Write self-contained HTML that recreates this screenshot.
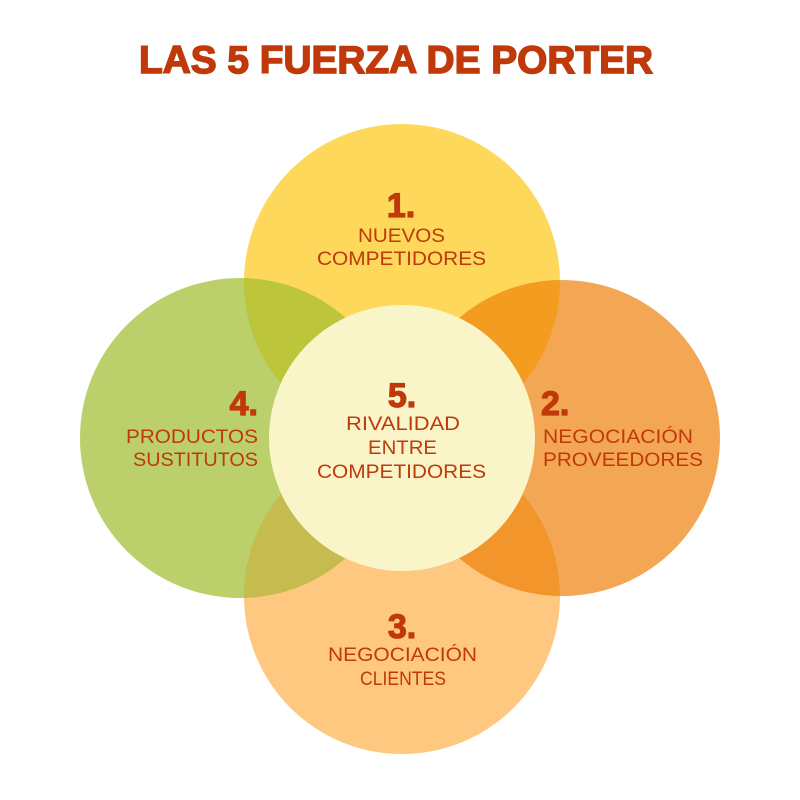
<!DOCTYPE html>
<html><head><meta charset="utf-8"><style>
html,body{margin:0;padding:0;background:#fff;width:800px;height:800px;overflow:hidden}
svg text{font-family:"Liberation Sans",sans-serif;fill:#C0390A}
.t{font-size:19px}
.n{font-size:34px;font-weight:bold;stroke:#C0390A;stroke-width:1.2}
</style></head><body>
<svg width="800" height="800" viewBox="0 0 800 800" xmlns="http://www.w3.org/2000/svg">
<defs>
<clipPath id="cT"><circle cx="402" cy="282" r="158"/></clipPath>
<clipPath id="cB"><circle cx="402" cy="596" r="158"/></clipPath>
</defs>
<circle cx="402" cy="282" r="158" fill="#FDD85B"/>
<circle cx="402" cy="596" r="158" fill="#FEC880"/>
<circle cx="240" cy="438" r="160" fill="#BBCF6B"/>
<circle cx="562" cy="438" r="158" fill="#F3A653"/>
<g clip-path="url(#cT)">
<circle cx="240" cy="438" r="160" fill="#BDC53A"/>
<circle cx="562" cy="438" r="158" fill="#F39C20"/>
</g>
<g clip-path="url(#cB)">
<circle cx="240" cy="438" r="160" fill="#C6BB4E"/>
<circle cx="562" cy="438" r="158" fill="#F2962C"/>
</g>
<circle cx="402" cy="438" r="133" fill="#FAF5C9"/>
<text x="396" y="73" text-anchor="middle" font-size="39" font-weight="bold" stroke="#C0390A" stroke-width="1.5" textLength="514" lengthAdjust="spacingAndGlyphs">LAS 5 FUERZA DE PORTER</text>
<text class="n" x="401" y="217" text-anchor="middle">1.</text>
<text class="t" x="358" y="242" textLength="87" lengthAdjust="spacingAndGlyphs">NUEVOS</text>
<text class="t" x="317" y="265" textLength="169" lengthAdjust="spacingAndGlyphs">COMPETIDORES</text>
<text class="n" x="402" y="407" text-anchor="middle">5.</text>
<text class="t" x="346" y="430" textLength="114" lengthAdjust="spacingAndGlyphs">RIVALIDAD</text>
<text class="t" x="368" y="454" textLength="69" lengthAdjust="spacingAndGlyphs">ENTRE</text>
<text class="t" x="317" y="478" textLength="169" lengthAdjust="spacingAndGlyphs">COMPETIDORES</text>
<text class="n" x="258" y="415" text-anchor="end">4.</text>
<text class="t" x="126" y="443" textLength="132" lengthAdjust="spacingAndGlyphs">PRODUCTOS</text>
<text class="t" x="133" y="466" textLength="125" lengthAdjust="spacingAndGlyphs">SUSTITUTOS</text>
<text class="n" x="541" y="415">2.</text>
<text class="t" x="543" y="443" textLength="150" lengthAdjust="spacingAndGlyphs">NEGOCIACIÓN</text>
<text class="t" x="543" y="466" textLength="160" lengthAdjust="spacingAndGlyphs">PROVEEDORES</text>
<text class="n" x="402" y="638" text-anchor="middle">3.</text>
<text class="t" x="328" y="661" textLength="149" lengthAdjust="spacingAndGlyphs">NEGOCIACIÓN</text>
<text class="t" x="360" y="685" textLength="86" lengthAdjust="spacingAndGlyphs">CLIENTES</text>
</svg>
</body></html>
